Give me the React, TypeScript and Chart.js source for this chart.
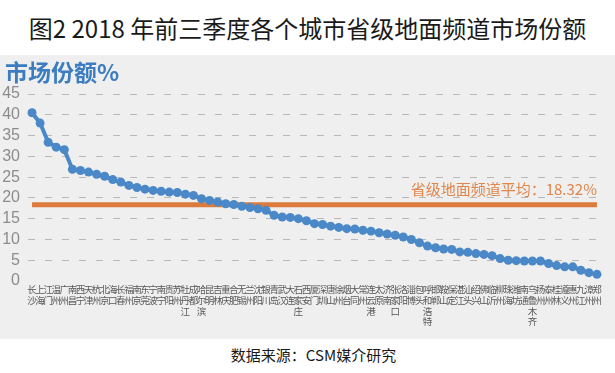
import { useEffect, useRef } from 'react';
import { Chart, registerables } from 'chart.js';

Chart.register(...registerables);

const titleText = '图2 2018 年前三季度各个城市省级地面频道市场份额';
const panelLabel = '市场份额%';
const sourceText = '数据来源：CSM媒介研究';
const averageLabel = '省级地面频道平均：18.32%';

const cities = [
  '长沙', '上海', '江门', '温州', '广州', '南昌', '西宁', '天津', '杭州', '北京',
  '海口', '长春', '福州', '南京', '东莞', '宁波', '南宁', '贵阳', '苏州', '牡丹江',
  '成都', '哈尔滨', '昆明', '吉林', '重庆', '合肥', '无锡', '兰州', '沈阳', '银川',
  '青岛', '武汉', '大连', '石家庄', '西安', '厦门', '深圳', '唐山', '徐州', '烟台',
  '大同', '常州', '连云港', '太原', '济南', '张家口', '洛阳', '淄博', '包头', '呼和浩特',
  '邯郸', '鞍山', '保定', '湛江', '汕头', '绍兴', '佛山', '临沂', '柳州', '珠海',
  '潍坊', '南通', '乌鲁木齐', '扬州', '泰州', '桂林', '遵义', '惠州', '九江', '漳州',
  '郑州',
];

const share = [
  40.5, 38.0, 33.4, 32.2, 31.6, 26.9, 26.6, 26.2, 25.7, 25.2,
  24.4, 23.8, 23.0, 22.5, 22.1, 21.8, 21.6, 21.4, 21.3, 20.9,
  20.6, 19.8, 19.4, 19.0, 18.6, 18.4, 18.0, 17.7, 17.4, 17.0,
  15.8, 15.4, 15.3, 15.0, 14.5, 13.8, 13.6, 13.2, 12.9, 12.6,
  12.5, 12.2, 12.0, 11.6, 11.3, 11.0, 10.6, 10.0, 9.2, 8.4,
  8.0, 7.7, 7.6, 7.0, 6.9, 6.6, 6.4, 6.1, 5.4, 5.0,
  4.9, 4.8, 4.8, 4.8, 4.2, 3.7, 3.4, 3.4, 2.6, 2.0,
  1.6,
];

const average = 18.32;
const yMin = 0;
const yMax = 45;
const yStep = 5;

const BLUE = '#4a88c8';
const ORANGE = '#dc7b3c';

export default function App() {
  const ref = useRef<HTMLCanvasElement>(null);

  useEffect(() => {
    document.body.style.margin = '0';
    const labelPlugin = {
      id: 'extraText',
      afterDraw(chart: any) {
        const { ctx, scales, chartArea } = chart;
        ctx.save();
        // average annotation
        const ya = scales.y.getPixelForValue(average);
        ctx.font = '15px "Noto Sans CJK SC", sans-serif';
        ctx.fillStyle = '#e0864b';
        ctx.textAlign = 'right';
        ctx.textBaseline = 'middle';
        ctx.fillText(averageLabel, 597, ya - 16);
        // stacked x labels (vertical text)
        ctx.font = '9.5px "Noto Sans CJK SC", sans-serif';
        ctx.fillStyle = '#595959';
        ctx.textAlign = 'center';
        ctx.textBaseline = 'top';
        const xs = scales.x;
        cities.forEach((name, i) => {
          const x = xs.getPixelForValue(i);
          name.split('').forEach((ch, j) => {
            ctx.fillText(ch, x, chartArea.bottom + 4 + j * 10.7);
          });
        });
        ctx.restore();
      },
    };
    const chart = new Chart(ref.current!, {
      type: 'line',
      data: {
        labels: cities,
        datasets: [
          {
            data: cities.map(() => average),
            borderColor: ORANGE,
            borderWidth: 5,
            pointRadius: 0,
            pointHoverRadius: 0,
            order: 2,
          },
          {
            data: share,
            borderColor: BLUE,
            backgroundColor: BLUE,
            borderWidth: 4,
            pointRadius: 4.5,
            pointBackgroundColor: BLUE,
            pointBorderColor: BLUE,
            pointBorderWidth: 0,
            order: 1,
          },
        ],
      },
      options: {
        animation: false,
        responsive: false,
        devicePixelRatio: 1,
        layout: { padding: { left: 0, right: 14, top: 39, bottom: 0 } },
        plugins: {
          legend: { display: false },
          tooltip: { enabled: false },
          title: { display: false },
        },
        scales: {
          x: {
            offset: true,
            grid: { display: false, drawTicks: false },
            border: { display: false },
            ticks: { display: false },
            afterFit(scale: any) {
              scale.height = 58;
            },
          },
          y: {
            min: yMin,
            max: yMax,
            ticks: {
              stepSize: yStep,
              autoSkip: false,
              maxTicksLimit: 20,
              padding: 8,
              color: '#8c8c8c',
              font: { family: '"Liberation Sans", Arial, sans-serif', size: 16 },
            },
            grid: {
              drawTicks: false,
              lineWidth: 1,
              color: (c: any) => (c.tick && c.tick.value === 0 ? 'rgba(0,0,0,0)' : '#b8b8b8'),
            },
            border: { display: false, dash: [7, 10] },
            afterFit(scale: any) {
              scale.width = 28;
            },
          },
        },
      },
      plugins: [labelPlugin],
    });
    return () => chart.destroy();
  }, []);

  return (
    <div
      style={{
        position: 'relative',
        width: 615,
        height: 373,
        background: '#ffffff',
        fontFamily: '"Noto Sans CJK SC", sans-serif',
        overflow: 'hidden',
      }}
    >
      <div
        style={{
          position: 'absolute',
          left: 0,
          top: 0,
          width: 615,
          height: 55,
          display: 'flex',
          alignItems: 'center',
          justifyContent: 'center',
          fontSize: 24,
          lineHeight: 1,
          color: '#1a1a1a',
          whiteSpace: 'nowrap',
        }}
      >
        {titleText}
      </div>
      <div
        style={{
          position: 'absolute',
          left: 0,
          top: 55,
          width: 615,
          height: 284,
          background: '#efefef',
        }}
      >
        <canvas ref={ref} width={615} height={284} style={{ display: 'block', width: 615, height: 284 }} />
        <div
          style={{
            position: 'absolute',
            left: 5,
            top: 5,
            fontSize: 23,
            lineHeight: 1,
            fontWeight: 'bold',
            color: '#3b7dc0',
            whiteSpace: 'nowrap',
          }}
        >
          {panelLabel}
        </div>
      </div>
      <div
        style={{
          position: 'absolute',
          left: 0,
          top: 339,
          width: 615,
          height: 30,
          display: 'flex',
          alignItems: 'center',
          justifyContent: 'center',
          fontSize: 15,
          lineHeight: 1,
          color: '#1a1a1a',
          paddingLeft: 12,
          boxSizing: 'border-box',
        }}
      >
        {sourceText}
      </div>
    </div>
  );
}
